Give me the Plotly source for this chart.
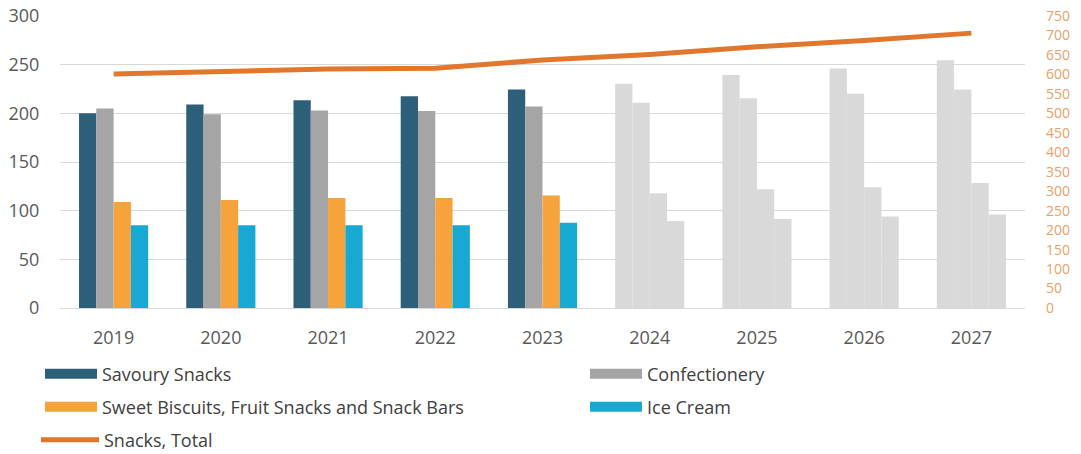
import plotly.graph_objects as go

years = ["2019", "2020", "2021", "2022", "2023", "2024", "2025", "2026", "2027"]
forecast_from = "2024"
savoury = [200, 209, 213.5, 217.5, 224.5, 230.5, 239.5, 246, 254.5]
confectionery = [205, 199, 203, 202.5, 207, 211, 215.5, 220, 224.5]
sweet = [109, 111, 113, 113, 115.5, 118, 122, 124, 128.5]
ice_cream = [85, 85, 85, 85, 87.5, 89.5, 91.5, 94, 96]
snacks_total = [601, 607, 614, 616, 637, 651, 671, 687, 706]

names = ["Savoury Snacks", "Confectionery",
         "Sweet Biscuits, Fruit Snacks and Snack Bars", "Ice Cream"]
total_name = "Snacks, Total"
colors = ["#2e5f7a", "#a5a5a5", "#f5a33a", "#17a9d3"]
forecast_color = "#d9d9d9"
line_color = "#e2762c"

legend_ids = ["legend", "legend2", "legend3", "legend4", "legend5"]

fig = go.Figure()
for name, vals, col in zip(names, [savoury, confectionery, sweet, ice_cream], colors):
    cols = [col if y < forecast_from else forecast_color for y in years]
    fig.add_trace(go.Bar(x=years, y=vals, name=name, showlegend=False,
                         marker=dict(color=cols, line=dict(width=0))))

fig.add_trace(go.Scatter(x=years, y=snacks_total, name=total_name, mode="lines",
                         line=dict(color=line_color, width=5), yaxis="y2",
                         legend=legend_ids[4]))

# legend swatches for the bar series (wide rectangular keys)
for name, col, lid in zip(names, colors, legend_ids[:4]):
    fig.add_trace(go.Scatter(x=[None], y=[None], name=name, mode="lines",
                             line=dict(color=col, width=10), legend=lid, hoverinfo="skip"))

font_family = "Open Sans, Noto Sans, sans-serif"
W, H = 1081, 454
ml, mr, mt, mb = 60, 56, 16, 146
pw, ph = W - ml - mr, H - mt - mb


def lx(px):
    return (px - ml) / pw


def ly(py):
    return (H - mb - py) / ph


legend_font = dict(size=18, color="#404040", family=font_family)
col_x = [lx(40), lx(585)]
row_y = [ly(374), ly(407), ly(440)]
positions = [(col_x[0], row_y[0]), (col_x[1], row_y[0]), (col_x[0], row_y[1]),
             (col_x[1], row_y[1]), (lx(36), row_y[2])]

legend_layout = {}
for i, (lid, (x, y)) in enumerate(zip(legend_ids, positions)):
    legend_layout[lid] = dict(x=x, y=y, xanchor="left", yanchor="middle",
                              orientation="h", font=legend_font,
                              itemwidth=52 if i < 4 else 58,
                              bgcolor="rgba(0,0,0,0)")

fig.update_layout(
    width=W, height=H,
    margin=dict(l=ml, r=mr, t=mt, b=mb, autoexpand=False),
    paper_bgcolor="white", plot_bgcolor="white",
    barmode="group", bargap=0.355, bargroupgap=0,
    font=dict(family=font_family, size=18, color="#595959"),
    xaxis=dict(showgrid=False, ticks="", showline=False, tickfont=dict(size=18, color="#595959"),
               ticklabelstandoff=17),
    yaxis=dict(range=[0, 300], dtick=50, showgrid=True, gridcolor="#d9d9d9", gridwidth=1,
               zeroline=True, zerolinecolor="#d9d9d9", zerolinewidth=1,
               tickfont=dict(size=18, color="#595959"),
               ticks="outside", ticklen=16, tickcolor="rgba(0,0,0,0)",
               ticklabeloverflow="allow"),
    yaxis2=dict(range=[0, 750], dtick=50, overlaying="y", side="right", showgrid=False,
                zeroline=False, tickfont=dict(size=14, color="#eaa066"), ticks="",
                ticklabelstandoff=20, ticklabeloverflow="allow"),
    showlegend=True,
    **legend_layout,
)

fig.write_html("out.html", config={"displayModeBar": False},
               post_script="document.body.style.margin='0px';")
